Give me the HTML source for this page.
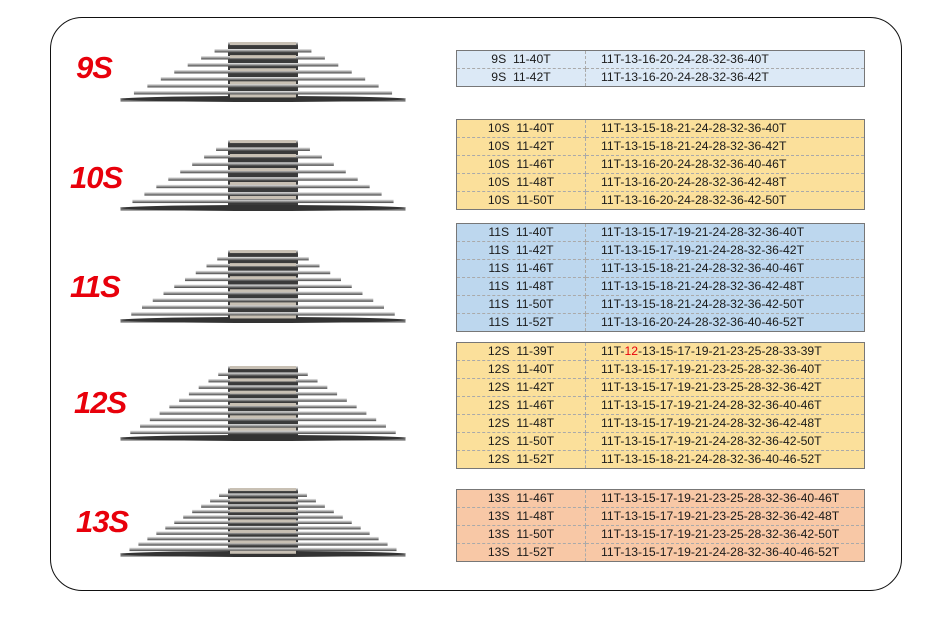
<!DOCTYPE html>
<html><head><meta charset="utf-8"><style>
body{margin:0;width:950px;height:619px;background:#fff;position:relative;overflow:hidden;font-family:"Liberation Sans",sans-serif}
.frame{position:absolute;left:50px;top:17px;width:850px;height:572px;border:1.5px solid #111;border-radius:32px}
.lbl{position:absolute;color:#e8000b;font-weight:bold;font-style:italic;font-size:31px;letter-spacing:-1px}
table{position:absolute;left:456px;width:409px;border-collapse:collapse;border:1.5px solid #777;font-size:12.2px;color:#1a1a1a}
td{height:17px;padding:0;border-bottom:1px dashed #aaa;line-height:17px}
td.a{width:128px;text-align:center;border-right:1px dashed #aaa}
td.b{padding-left:15px}
tr:last-child td{border-bottom:none}
svg{position:absolute;left:0;top:0}
</style></head><body>
<div class="frame"></div>
<div class="lbl" style="left:76px;top:50px">9S</div>
<div class="lbl" style="left:70px;top:160px">10S</div>
<div class="lbl" style="left:70px;top:269px">11S</div>
<div class="lbl" style="left:74px;top:385px">12S</div>
<div class="lbl" style="left:76px;top:504px">13S</div>
<svg id="s" width="950" height="619"></svg>

<table style="top:50px;background:#dce9f6">
<tr><td class="a">9S&nbsp; 11-40T</td><td class="b">11T-13-16-20-24-28-32-36-40T</td></tr>
<tr><td class="a">9S&nbsp; 11-42T</td><td class="b">11T-13-16-20-24-28-32-36-42T</td></tr>
</table>
<table style="top:119px;background:#fbe09b">
<tr><td class="a">10S&nbsp; 11-40T</td><td class="b">11T-13-15-18-21-24-28-32-36-40T</td></tr>
<tr><td class="a">10S&nbsp; 11-42T</td><td class="b">11T-13-15-18-21-24-28-32-36-42T</td></tr>
<tr><td class="a">10S&nbsp; 11-46T</td><td class="b">11T-13-16-20-24-28-32-36-40-46T</td></tr>
<tr><td class="a">10S&nbsp; 11-48T</td><td class="b">11T-13-16-20-24-28-32-36-42-48T</td></tr>
<tr><td class="a">10S&nbsp; 11-50T</td><td class="b">11T-13-16-20-24-28-32-36-42-50T</td></tr>
</table>
<table style="top:223px;background:#bdd7ee">
<tr><td class="a">11S&nbsp; 11-40T</td><td class="b">11T-13-15-17-19-21-24-28-32-36-40T</td></tr>
<tr><td class="a">11S&nbsp; 11-42T</td><td class="b">11T-13-15-17-19-21-24-28-32-36-42T</td></tr>
<tr><td class="a">11S&nbsp; 11-46T</td><td class="b">11T-13-15-18-21-24-28-32-36-40-46T</td></tr>
<tr><td class="a">11S&nbsp; 11-48T</td><td class="b">11T-13-15-18-21-24-28-32-36-42-48T</td></tr>
<tr><td class="a">11S&nbsp; 11-50T</td><td class="b">11T-13-15-18-21-24-28-32-36-42-50T</td></tr>
<tr><td class="a">11S&nbsp; 11-52T</td><td class="b">11T-13-16-20-24-28-32-36-40-46-52T</td></tr>
</table>
<table style="top:342px;background:#fbe09b">
<tr><td class="a">12S&nbsp; 11-39T</td><td class="b">11T-<span style="color:#e8000b">12</span>-13-15-17-19-21-23-25-28-33-39T</td></tr>
<tr><td class="a">12S&nbsp; 11-40T</td><td class="b">11T-13-15-17-19-21-23-25-28-32-36-40T</td></tr>
<tr><td class="a">12S&nbsp; 11-42T</td><td class="b">11T-13-15-17-19-21-23-25-28-32-36-42T</td></tr>
<tr><td class="a">12S&nbsp; 11-46T</td><td class="b">11T-13-15-17-19-21-24-28-32-36-40-46T</td></tr>
<tr><td class="a">12S&nbsp; 11-48T</td><td class="b">11T-13-15-17-19-21-24-28-32-36-42-48T</td></tr>
<tr><td class="a">12S&nbsp; 11-50T</td><td class="b">11T-13-15-17-19-21-24-28-32-36-42-50T</td></tr>
<tr><td class="a">12S&nbsp; 11-52T</td><td class="b">11T-13-15-18-21-24-28-32-36-40-46-52T</td></tr>
</table>
<table style="top:489px;background:#f8c8a6">
<tr><td class="a">13S&nbsp; 11-46T</td><td class="b">11T-13-15-17-19-21-23-25-28-32-36-40-46T</td></tr>
<tr><td class="a">13S&nbsp; 11-48T</td><td class="b">11T-13-15-17-19-21-23-25-28-32-36-42-48T</td></tr>
<tr><td class="a">13S&nbsp; 11-50T</td><td class="b">11T-13-15-17-19-21-23-25-28-32-36-42-50T</td></tr>
<tr><td class="a">13S&nbsp; 11-52T</td><td class="b">11T-13-15-17-19-21-24-28-32-36-40-46-52T</td></tr>
</table>
<script>
var s=document.getElementById('s'),h='';
h+='<defs><linearGradient id="g" x1="0" x2="0" y1="0" y2="1"><stop offset="0" stop-color="#eee"/><stop offset="0.5" stop-color="#999"/><stop offset="1" stop-color="#444"/></linearGradient></defs>';
[[42,101,9],[140,210,10],[250,322,11],[366,440,12],[488,556,13]].forEach(function(c){
 var t=c[0],b=c[1],n=c[2],cx=263;
 h+='<rect x="'+(cx-35)+'" y="'+t+'" width="70" height="'+(b-t-4)+'" fill="#3a3a3a"/>';
 for(var i=0;i<n;i++){
  var y=t+(b-t-3)*i/(n-1),w=70+(285-70)*i/(n-1);
  h+='<rect x="'+(cx-w/2)+'" y="'+y+'" width="'+w+'" height="3.5" fill="url(#g)"/>';
 }
 h+='<ellipse cx="'+cx+'" cy="'+(b-2)+'" rx="143" ry="3" fill="#333"/>';
 for(var i=0;i<n;i+=2){var y=t+(b-t)*i/n;h+='<rect x="'+(cx-33)+'" y="'+y+'" width="66" height="3" fill="#c8c0b4"/>';}
});
s.innerHTML=h;
</script>
</body></html>
